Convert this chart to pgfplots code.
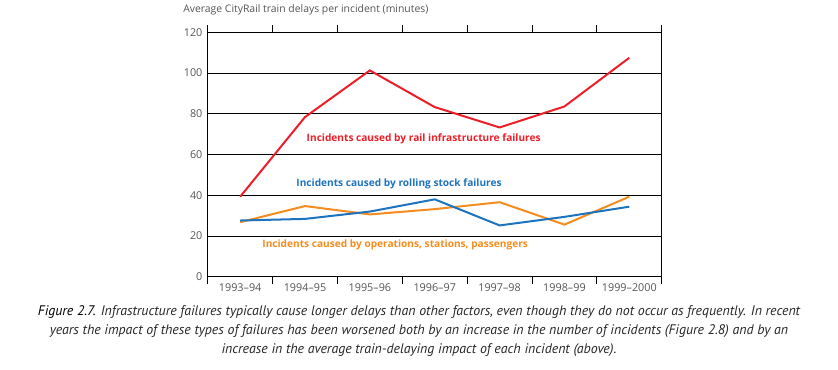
\documentclass[border=0pt]{standalone}
\usepackage{fontspec}
\setmainfont{Open Sans}
\newfontfamily\capfont{PT Sans}
\usepackage{pgfplots}
\pgfplotsset{compat=1.18}
\definecolor{cred}{RGB}{236,30,40}
\definecolor{cblue}{RGB}{30,115,190}
\definecolor{corange}{RGB}{245,140,30}
\definecolor{tgray}{RGB}{85,85,85}
\begin{document}
\begin{tikzpicture}[x=1pt,y=1pt]
\path[use as bounding box] (0,0) rectangle (628.5,276.75);
\begin{axis}[
  at={(155.8pt,69.2pt)}, anchor=south west,
  scale only axis, width=340.5pt, height=183.3pt,
  xmin=0, xmax=7, ymin=0, ymax=120,
  ytick={0,20,...,120},
  ymajorgrids, major grid style={black, line width=0.6pt},
  xtick={0.5,1.5,...,6.5},
  xticklabels={1993--94,1994--95,1995--96,1996--97,1997--98,1998--99,1999--2000},
  minor xtick={0,1,...,7},
  major tick length=0pt, minor tick length=5.5pt, tick align=outside,
  minor tick style={black, line width=0.6pt},
  axis line style={black, line width=0.6pt},
  tick label style={font=\fontsize{8.1}{9}\selectfont, text=tgray},
  /pgf/number format/assume math mode=true,
  xticklabel style={yshift=-2pt},
  yticklabel style={xshift=-0.5pt},
  clip=false,
]
\addplot[cred, line width=1.5pt] coordinates {(0.5,39.3) (1.5,78.4) (2.5,101.3) (3.5,83.3) (4.5,73.3) (5.5,83.6) (6.5,107.5)};
\addplot[corange, line width=1.5pt] coordinates {(0.5,26.8) (1.5,34.7) (2.5,30.6) (3.5,33.2) (4.5,36.6) (5.5,25.6) (6.5,39.3)};
\addplot[cblue, line width=1.5pt] coordinates {(0.5,27.6) (1.5,28.4) (2.5,32.0) (3.5,38.0) (4.5,25.2) (5.5,29.4) (6.5,34.4)};
\node[text=cred, font=\bfseries\fontsize{7.6}{9}\selectfont] at (axis cs:3.33,67.6) {Incidents caused by rail infrastructure failures};
\node[text=cblue, font=\bfseries\fontsize{7.6}{9}\selectfont] at (axis cs:2.95,45.7) {Incidents caused by rolling stock failures};
\node[text=corange, font=\bfseries\fontsize{7.6}{9}\selectfont] at (axis cs:2.89,15.6) {Incidents caused by operations, stations, passengers};
\end{axis}
\node[anchor=west, text=tgray, font=\fontsize{7.8}{9}\selectfont, inner sep=0pt] at (137.25,269.25) {Average CityRail train delays per incident (minutes)};
\node[align=center, font=\capfont\itshape\fontsize{10.4}{14.25}\selectfont, text=black!85, inner sep=0pt] at (314.25,28.2) {{\color{black}Figure 2.7.} Infrastructure failures typically cause longer delays than other factors, even though they do not occur as frequently. In recent\\ years the impact of these types of failures has been worsened both by an increase in the number of incidents (Figure 2.8) and by an\\ increase in the average train-delaying impact of each incident (above).};
\end{tikzpicture}
\end{document}
